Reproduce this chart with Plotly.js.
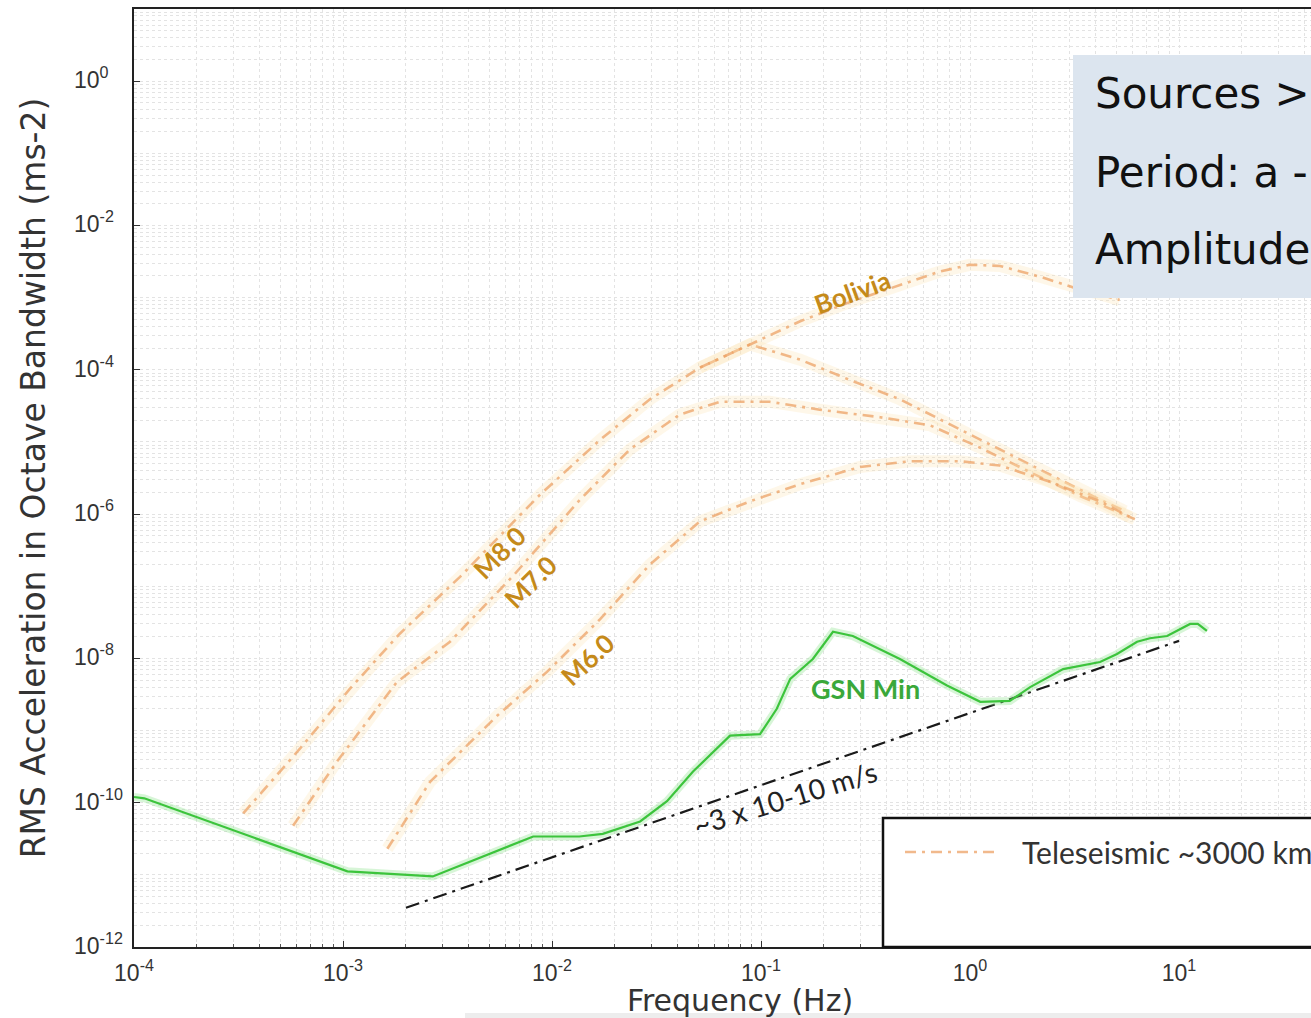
<!DOCTYPE html>
<html><head><meta charset="utf-8">
<script src="https://cdn.plot.ly/plotly-3.0.1.min.js"></script>
<style>html,body{margin:0;padding:0;overflow:hidden;background:#fff}#chart{width:1346px;height:1018px}</style>
</head><body><div id="chart"></div>
<script>
// ---- data ----
const gsnFreq = [1.0e-4, 1.12e-4, 1.05e-3, 2.69e-3, 8.13e-3, 0.0135, 0.0175, 0.0264, 0.0355, 0.0473, 0.0711, 0.0989, 0.119, 0.138, 0.177, 0.221, 0.275, 0.462, 0.776, 1.12, 1.55, 1.94, 2.79, 4.19, 5.05, 6.3, 7.26, 8.77, 11.3, 12.3, 13.6];
const gsnAcc  = [1.2e-10, 1.15e-10, 1.12e-11, 9.5e-12, 3.4e-11, 3.4e-11, 3.7e-11, 5.5e-11, 1.05e-10, 2.7e-10, 8.5e-10, 8.9e-10, 2.0e-9, 5.2e-9, 9.8e-9, 2.34e-8, 2.04e-8, 9.8e-9, 4.2e-9, 2.5e-9, 2.57e-9, 4.0e-9, 7.1e-9, 8.9e-9, 1.15e-8, 1.7e-8, 1.9e-8, 2.04e-8, 3.0e-8, 3.0e-8, 2.4e-8];

const m8Freq = [3.33e-4, 6.22e-4, 1.08e-3, 1.87e-3, 3.63e-3, 8.77e-3, 0.017, 0.0294, 0.051, 0.0885, 0.154, 0.267, 0.462, 0.895, 1.39, 2.42, 4.19, 5.52];
const m8Acc  = [7.1e-11, 5.6e-10, 3.8e-9, 2.2e-8, 1.35e-7, 1.86e-6, 1.07e-5, 3.9e-5, 1.07e-4, 2.24e-4, 1.38e-4, 7.2e-5, 3.9e-5, 1.48e-5, 7.9e-6, 3.5e-6, 1.58e-6, 1.1e-6];

const m7Freq = [5.77e-4, 9.35e-4, 1.81e-3, 3.25e-3, 6.5e-3, 0.0136, 0.0236, 0.0409, 0.0637, 0.110, 0.191, 0.371, 0.644, 1.12, 1.94, 3.36, 6.15];
const m7Acc  = [4.8e-11, 3.7e-10, 4.7e-9, 1.7e-8, 1.38e-7, 1.58e-6, 7.9e-6, 2.4e-5, 3.6e-5, 3.6e-5, 2.8e-5, 2.2e-5, 1.7e-5, 8.3e-6, 3.8e-6, 1.78e-6, 8.5e-7];

const m6Freq = [1.63e-3, 2.61e-3, 5.46e-3, 9.46e-3, 0.017, 0.0294, 0.051, 0.0885, 0.154, 0.298, 0.516, 0.895, 1.39, 2.42, 4.19, 5.83];
const m6Acc  = [2.3e-11, 1.95e-10, 1.6e-9, 6.5e-9, 3.5e-8, 2.0e-7, 7.9e-7, 1.5e-6, 2.6e-6, 4.5e-6, 5.4e-6, 5.4e-6, 4.7e-6, 2.8e-6, 1.5e-6, 9.1e-7];

const boliviaFreq = [0.051, 0.0885, 0.154, 0.267, 0.462, 0.718, 1.0, 1.39, 2.16, 3.36, 5.2];
const boliviaAcc  = [1.07e-4, 2.24e-4, 4.7e-4, 8.7e-4, 1.51e-3, 2.3e-3, 2.85e-3, 2.75e-3, 1.95e-3, 1.29e-3, 9.3e-4];

const velFreq = [0.002, 10];
const velAcc  = [3.5e-12, 1.75e-8];

const xTickVals = [1e-4, 1e-3, 1e-2, 1e-1, 1e0, 1e1];
const xTickText = ['10<sup>-4</sup>', '10<sup>-3</sup>', '10<sup>-2</sup>', '10<sup>-1</sup>', '10<sup>0</sup>', '10<sup>1</sup>'];
const yTickVals = [1e-12, 1e-10, 1e-8, 1e-6, 1e-4, 1e-2, 1e0];
const yTickText = ['10<sup>-12</sup>', '10<sup>-10</sup>', '10<sup>-8</sup>', '10<sup>-6</sup>', '10<sup>-4</sup>', '10<sup>-2</sup>', '10<sup>0</sup>'];

const textBox = ['Sources > 3000 km', 'Period: a - 1000 s', 'Amplitude: 10-8 - 10-2'];
const legendLabel = 'Teleseismic ~3000 km';

// ---- minor grid positions (k * 10^n) ----
function minorVals(lo, hi, majors) {
  const out = [];
  for (let n = lo; n <= hi; n++) for (let k = 1; k <= 9; k++) {
    const v = k * Math.pow(10, n);
    if (!majors.some(m => Math.abs(m - v) / v < 1e-9)) out.push(v);
  }
  return out;
}

const orange = 'rgba(236,158,96,0.72)';
const halo = 'rgba(250,228,175,0.28)';
function quake(f, a) {
  return [
    {x: f, y: a, mode: 'lines', line: {color: halo, width: 12}, hoverinfo: 'skip', showlegend: false},
    {x: f, y: a, mode: 'lines', line: {color: orange, width: 2.6, dash: '11px,6px,3px,6px'}, showlegend: false}
  ];
}

const traces = [].concat(
  quake(m8Freq, m8Acc), quake(m7Freq, m7Acc), quake(m6Freq, m6Acc), quake(boliviaFreq, boliviaAcc),
  [
    {x: velFreq, y: velAcc, mode: 'lines', line: {color: '#1a1a1a', width: 2.2, dash: '14px,6px,3px,6px'}, showlegend: false},
    {x: gsnFreq, y: gsnAcc, mode: 'lines', line: {color: 'rgba(140,225,140,0.35)', width: 8}, hoverinfo: 'skip', showlegend: false},
    {x: gsnFreq, y: gsnAcc, mode: 'lines', line: {color: '#3cc43c', width: 2.2}, name: 'GSN Min', showlegend: false}
  ]
);

const labFont = {family: 'Lato, Open Sans, sans-serif', size: 26, color: '#c58a1a', weight: 700};
const boxFont = {family: 'DejaVu Sans, sans-serif', size: 42, color: '#111'};
const tickFont = {family: 'Liberation Sans Narrow, Arial Narrow, Liberation Sans, sans-serif', size: 23, color: '#333'};

const annotations = [
  {x: -2.249, y: -6.53, xref: 'x', yref: 'y', text: 'M8.0', showarrow: false, textangle: -45, font: labFont},
  {x: -2.105, y: -6.94, xref: 'x', yref: 'y', text: 'M7.0', showarrow: false, textangle: -45, font: labFont},
  {x: -1.828, y: -8.01, xref: 'x', yref: 'y', text: 'M6.0', showarrow: false, textangle: -43, font: labFont},
  {x: -0.565, y: -2.92, xref: 'x', yref: 'y', text: 'Bolivia', showarrow: false, textangle: -20, font: labFont},
  {x: -0.502, y: -8.42, xref: 'x', yref: 'y', text: 'GSN Min', showarrow: false, font: {family: 'Lato, sans-serif', size: 27, color: '#3aa83a', weight: 700}},
  {x: -0.885, y: -9.94, xref: 'x', yref: 'y', text: '~3 x 10-10 m/s', showarrow: false, textangle: -17, font: {family: 'Lato, sans-serif', size: 28, color: '#222'}},
  {x: (1093 - 134) / 1212, y: (947 - 93) / 938, xref: 'paper', yref: 'paper', xanchor: 'left', yanchor: 'middle', text: textBox[0], showarrow: false, font: boxFont},
  {x: (1093 - 134) / 1212, y: (947 - 172) / 938, xref: 'paper', yref: 'paper', xanchor: 'left', yanchor: 'middle', text: textBox[1], showarrow: false, font: boxFont},
  {x: (1093 - 134) / 1212, y: (947 - 250) / 938, xref: 'paper', yref: 'paper', xanchor: 'left', yanchor: 'middle', text: textBox[2], showarrow: false, font: boxFont},
  {x: (1020 - 134) / 1212, y: (947 - 852) / 938, xref: 'paper', yref: 'paper', xanchor: 'left', yanchor: 'middle', text: legendLabel, showarrow: false, font: {family: 'Lato, sans-serif', size: 30, color: '#333'}}
];
// y tick labels, left-aligned as in the reference
yTickVals.forEach((v, i) => {
  annotations.push({x: (72 - 134) / 1212, y: Math.log10(v), xref: 'paper', yref: 'y', xanchor: 'left', yanchor: 'middle', yshift: 3,
    text: yTickText[i], showarrow: false, font: tickFont});
});

const shapes = [
  {type: 'rect', xref: 'paper', yref: 'paper', x0: (1073 - 134) / 1212, x1: 1.2, y0: (947 - 298) / 938, y1: (947 - 55) / 938, fillcolor: '#dce5ef', line: {width: 0}, layer: 'above'},
  {type: 'rect', xref: 'paper', yref: 'paper', x0: (883 - 134) / 1212, x1: 1.2, y0: 0, y1: (947 - 818) / 938, fillcolor: '#fff', line: {color: '#111', width: 2.5}, layer: 'above'},
  {type: 'line', xref: 'paper', yref: 'paper', x0: (905 - 134) / 1212, x1: (1000 - 134) / 1212, y0: (947 - 852) / 938, y1: (947 - 852) / 938, line: {color: orange, width: 2.6, dash: '11px,6px,3px,6px'}, layer: 'above'},
  {type: 'rect', xref: 'paper', yref: 'paper', x0: (465 - 134) / 1212, x1: 1.2, y0: (947 - 1018) / 938, y1: (947 - 1013) / 938, fillcolor: '#ededed', line: {width: 0}, layer: 'above'}
];

const gridStyle = {gridcolor: '#e3e3e3', griddash: 'dot', gridwidth: 1};
const layout = {
  width: 1346, height: 1018,
  margin: {l: 134, r: 0, t: 9, b: 71},
  paper_bgcolor: '#fff', plot_bgcolor: '#fff',
  showlegend: false,
  xaxis: {
    type: 'log', range: [-4, 1.799], tickmode: 'array', tickvals: xTickVals, ticktext: xTickText,
    showgrid: true, ...gridStyle, ticks: 'inside', ticklen: 6, tickcolor: '#333',
    showline: true, linecolor: '#222', linewidth: 2, mirror: true, zeroline: false,
    tickfont: tickFont, ticklabelstandoff: 4,
    minor: {tickmode: 'array', tickvals: minorVals(-4, 1, xTickVals), showgrid: true, ...gridStyle, ticks: 'inside', ticklen: 3, tickcolor: '#555'},
    title: {text: 'Frequency (Hz)', font: {family: 'DejaVu Sans, sans-serif', size: 30, color: '#333'}, standoff: 12},
    automargin: false
  },
  yaxis: {
    type: 'log', range: [-12, 1], tickmode: 'array', tickvals: yTickVals, ticktext: yTickText,
    showticklabels: false,
    showgrid: true, ...gridStyle, ticks: 'inside', ticklen: 6, tickcolor: '#333',
    showline: true, linecolor: '#222', linewidth: 2, mirror: true, zeroline: false,
    minor: {tickmode: 'array', tickvals: minorVals(-12, 0, yTickVals), showgrid: true, ...gridStyle, ticks: '', ticklen: 0},
    title: {text: 'RMS Acceleration in Octave Bandwidth (ms-2)', font: {family: 'DejaVu Sans, sans-serif', size: 33, color: '#333'}, standoff: 76},
    automargin: false
  },
  annotations: annotations,
  shapes: shapes
};

Plotly.newPlot('chart', traces, layout, {displayModeBar: false, staticPlot: true});
</script></body></html>
